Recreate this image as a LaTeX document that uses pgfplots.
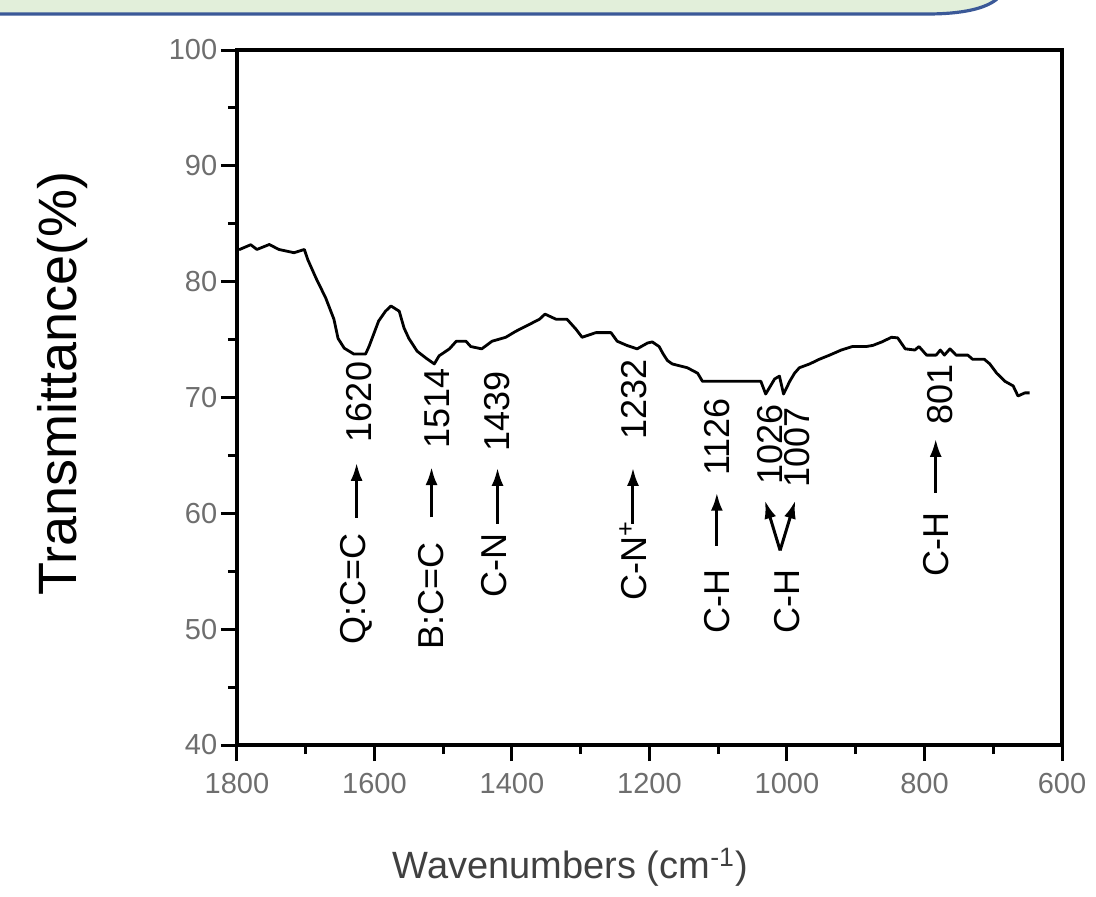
\documentclass[border=0pt]{standalone}
\usepackage{fontspec}
\setmainfont{Liberation Sans}
\usepackage{pgfplots}
\pgfplotsset{compat=1.18}
\usetikzlibrary{arrows.meta}
\definecolor{bannerfill}{RGB}{226,239,218}
\definecolor{bannerline}{RGB}{59,89,152}
\definecolor{ticklab}{RGB}{110,110,110}
\newcommand{\annfont}{\fontsize{18}{20}\selectfont}
\begin{document}
\begin{tikzpicture}
\useasboundingbox (-118.5pt,-75.5pt) rectangle (429.5pt,372.5pt);
\fill[bannerfill] (-120pt,373pt) -- (-120pt,365.5pt) -- (345pt,365.5pt) .. controls (362pt,365.5pt) and (374pt,368pt) .. (380pt,373pt) -- cycle;
\draw[bannerline, line width=1.6pt] (-120pt,365.5pt) -- (345pt,365.5pt) .. controls (362pt,365.5pt) and (374pt,368pt) .. (380pt,373pt);
\begin{axis}[
  scale only axis, width=412.5pt, height=347.5pt,
  x dir=reverse, xmin=600, xmax=1800, ymin=40, ymax=100,
  xtick={600,800,...,1800}, ytick={40,50,...,100},
  minor x tick num=1, minor y tick num=1,
  tick align=outside, xtick pos=bottom, ytick pos=left,
  major tick length=8pt, minor tick length=4.5pt,
  line width=1.8pt,
  tick style={line width=1.5pt, black},
  /pgf/number format/assume math mode=true,
  /pgf/number format/1000 sep={},
  tick label style={font=\fontsize{14.5}{16}\selectfont, text=ticklab, inner sep=1pt},
  xticklabel style={yshift=-4pt},
  ylabel={Transmittance(\%)},
  ylabel style={font=\fontsize{27}{32}\selectfont, at={(axis description cs:-0.212,0.52)}, anchor=center},
  xlabel={Wavenumbers (cm\textsuperscript{-1})},
  xlabel style={font=\fontsize{19}{23}\selectfont, text=black!75, at={(axis description cs:0.404,-0.176)}, anchor=center},
]
\addplot[black, line width=1.4pt, line join=round] coordinates {
(1797,82.76) (1780,83.19) (1771,82.78) (1753,83.21) (1739,82.78) (1717,82.5) (1702,82.78) (1697,81.9) (1685,80.3) (1671,78.6) (1659,76.76) (1653,75.1) (1644,74.26) (1630,73.75) (1613,73.75) (1608,74.4) (1601,75.5) (1594,76.6) (1584,77.45) (1576,77.9) (1564,77.45) (1557,76.0) (1550,75.1) (1538,74.0) (1525,73.4) (1513,72.9) (1506,73.6) (1491,74.2) (1481,74.86) (1467,74.86) (1460,74.4) (1444,74.2) (1429,74.86) (1409,75.2) (1395,75.7) (1375,76.3) (1360,76.76) (1352,77.2) (1336,76.76) (1320,76.76) (1307,75.9) (1298,75.2) (1278,75.6) (1256,75.6) (1247,74.86) (1233,74.5) (1218,74.2) (1203,74.7) (1196,74.8) (1186,74.4) (1180,73.75) (1174,73.2) (1167,72.9) (1145,72.57) (1130,72.1) (1123,71.4) (1038,71.4) (1031,70.3) (1023,71.1) (1018,71.6) (1011,71.85) (1005,70.3) (996,71.4) (989,72.1) (982,72.57) (967,72.9) (953,73.3) (938,73.66) (921,74.1) (905,74.4) (885,74.4) (875,74.5) (862,74.8) (848,75.2) (839,75.15) (828,74.2) (814,74.1) (808,74.4) (797,73.66) (783,73.66) (777,74.1) (771,73.66) (763,74.2) (754,73.66) (737,73.66) (730,73.3) (713,73.3) (705,72.9) (695,72.1) (683,71.4) (671,71.0) (664,70.13) (654,70.4) (647,70.4)
};
% annotations
\tikzset{ann/.style={rotate=90, inner sep=0pt, font=\annfont, text=black},
         annarr/.style={line width=1.5pt, black, -{Latex[length=9pt,width=6pt]}}}
\node[ann, anchor=west] at (axis cs:1623,66.0) {1620};
\draw[annarr] (axis cs:1626,59.63) -- (axis cs:1626,64.36);
\node[ann, anchor=east] at (axis cs:1626,58.4) {Q:C=C};
\node[ann, anchor=west] at (axis cs:1508,65.4) {1514};
\draw[annarr] (axis cs:1517,59.65) -- (axis cs:1517,64.0);
\node[ann, anchor=east] at (axis cs:1517,57.65) {B:C=C};
\node[ann, anchor=west] at (axis cs:1421,65.2) {1439};
\draw[annarr] (axis cs:1421,59.1) -- (axis cs:1421,63.93);
\node[ann, anchor=east] at (axis cs:1426,58.4) {C-N};
\node[ann, anchor=west] at (axis cs:1223,66.25) {1232};
\draw[annarr] (axis cs:1224,59.1) -- (axis cs:1224,63.93);
\node[ann, anchor=east] at (axis cs:1224,59.5) {C-N\textsuperscript{+}};
\node[ann, anchor=west] at (axis cs:1102,63.07) {1126};
\draw[annarr] (axis cs:1102,57.22) -- (axis cs:1102,61.78);
\node[ann, anchor=east] at (axis cs:1102,55.33) {C-H};
\node[ann, anchor=west] at (axis cs:1025,62.3) {1026};
\node[ann, anchor=west] at (axis cs:985,62.1) {1007};
\draw[annarr] (axis cs:1010,56.8) -- (axis cs:1032,61.1);
\draw[annarr] (axis cs:1010,56.8) -- (axis cs:988,61.1);
\node[ann, anchor=east] at (axis cs:1000,55.33) {C-H};
\node[ann, anchor=west] at (axis cs:777.5,67.55) {801};
\draw[annarr] (axis cs:783.7,61.78) -- (axis cs:783.7,66.43);
\node[ann, anchor=east] at (axis cs:783.7,60.23) {C-H};
\end{axis}
\end{tikzpicture}
\end{document}
